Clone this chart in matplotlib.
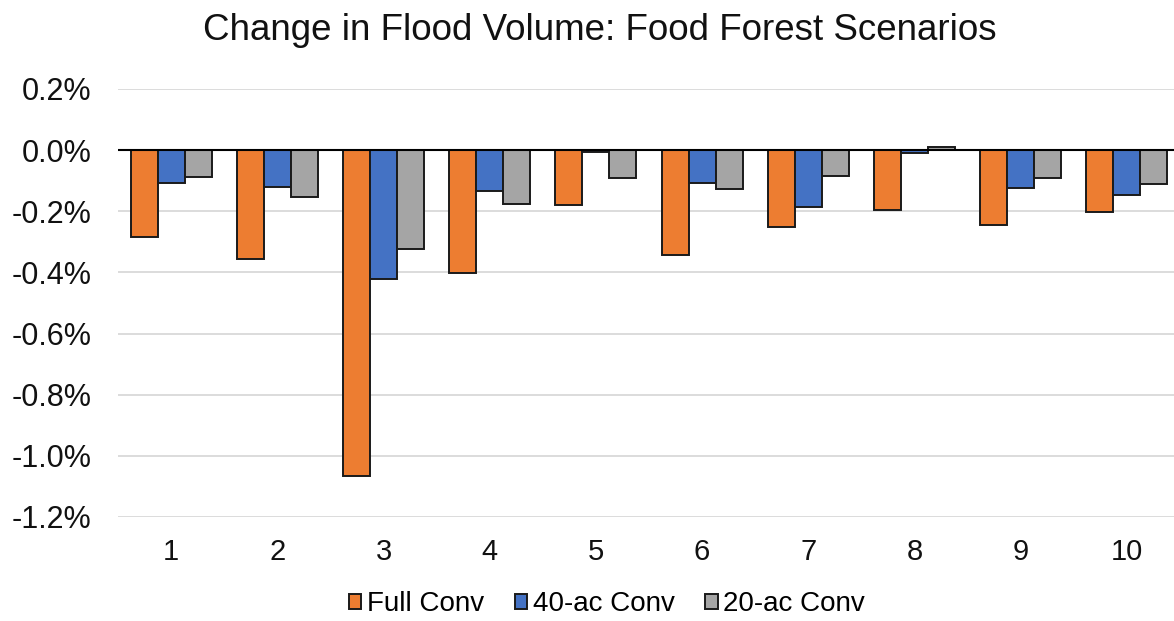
import matplotlib.pyplot as plt
import numpy as np

plt.rcParams['font.family'] = ['Liberation Sans', 'DejaVu Sans']

# scenario numbers and change in flood volume (%)
scenarios = ['1', '2', '3', '4', '5', '6', '7', '8', '9', '10']
full_conv = [-0.283, -0.355, -1.065, -0.401, -0.179, -0.342, -0.251, -0.197, -0.244, -0.202]
conv_40ac = [-0.106, -0.121, -0.420, -0.135, -0.006, -0.109, -0.187, -0.009, -0.125, -0.147]
conv_20ac = [-0.087, -0.153, -0.324, -0.175, -0.090, -0.128, -0.083, 0.011, -0.090, -0.112]
series_names = ['Full Conv', '40-ac Conv', '20-ac Conv']
ytick_vals = [0.2, 0.0, -0.2, -0.4, -0.6, -0.8, -1.0, -1.2]
ytick_labels = ['0.2%', '0.0%', '-0.2%', '-0.4%', '-0.6%', '-0.8%', '-1.0%', '-1.2%']

colors = ['#ED7D31', '#4472C4', '#A5A5A5']

fig = plt.figure(figsize=(11.74, 6.21), dpi=100)
# plot area runs past the right edge of the picture, like the reference crop
ax = fig.add_axes([118 / 1174, 1 - 517 / 621, 1062 / 1174, (517 - 89) / 621])

x = np.arange(1, len(scenarios) + 1)
w = 0.254
for i, (vals, name) in enumerate(zip([full_conv, conv_40ac, conv_20ac], series_names)):
    ax.bar(x + (i - 1) * w, vals, w, color=colors[i], edgecolor='#1a1a1a',
           linewidth=1.4, label=name, zorder=3)

ax.axhline(0, color='black', lw=1.5, zorder=4)
ax.set_xlim(0.5, 10.5)
ax.set_ylim(-1.2, 0.2)
ax.set_yticks(ytick_vals)
ax.set_yticklabels(ytick_labels)
ax.set_xticks(x)
ax.set_xticklabels(scenarios)
ax.grid(axis='y', color='#D9D9D9', lw=1.3, zorder=0)
ax.set_axisbelow(True)
for s in ax.spines.values():
    s.set_visible(False)
ax.tick_params(axis='y', length=0, pad=19, labelsize=22, colors='#111111')
ax.tick_params(axis='x', length=0, pad=15, labelsize=21, colors='#111111')

fig.text(600 / 1174, 1 - 40 / 621, 'Change in Flood Volume: Food Forest Scenarios',
         ha='center', va='baseline', fontsize=26.5, color='#111111')

fig.legend(loc='center', bbox_to_anchor=(607 / 1174, 1 - 604 / 621), ncol=3,
           frameon=False, fontsize=20, handlelength=0.45, handleheight=0.45,
           handletextpad=0.2, columnspacing=1.1, borderaxespad=0)

fig.savefig('out.png', dpi=100)
